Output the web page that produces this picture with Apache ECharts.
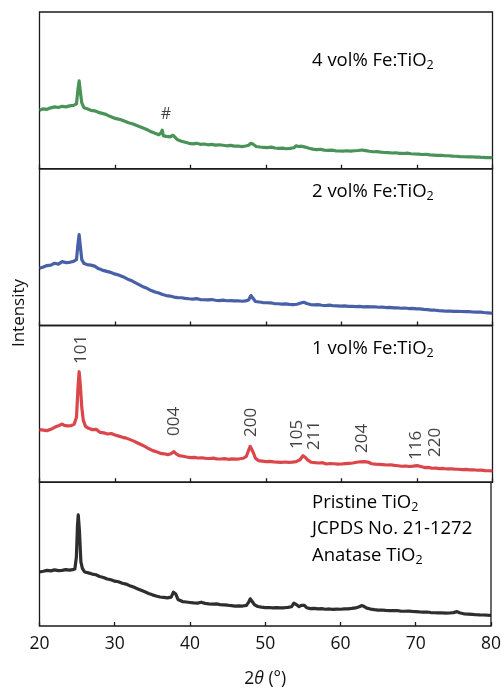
<!DOCTYPE html>
<html><head><meta charset="utf-8">
<script src="https://cdn.jsdelivr.net/npm/echarts@6/dist/echarts.min.js"></script>
<style>html,body{margin:0;padding:0;background:#fff}#c{width:504px;height:689px}</style>
</head><body><div id="c"></div>
<script>
const xTicks = [20,30,40,50,60,70,80];
const fe4 = [[20,58.7],[20.5,60],[21,59.5],[21.5,61],[22,62],[22.5,61.3],[23,62.5],[23.5,62],[24,63],[24.5,63.5],[24.9,65],[25.1,80],[25.25,88],[25.4,78],[25.6,66],[25.9,61],[26.3,60],[26.8,58.5],[27.3,58],[27.8,56.5],[28.3,55.5],[28.8,54.5],[29.3,52.5],[29.8,51],[30.3,50],[30.8,49],[31.3,47.5],[31.8,46],[32.3,45],[32.8,43.5],[33.3,42],[33.8,40.5],[34.3,39],[34.8,37],[35.3,35.5],[35.8,34],[36.1,36],[36.25,38.7],[36.4,33],[36.8,32.5],[37.3,32],[37.7,33.5],[37.9,32.5],[38.3,29],[38.8,27.5],[39.3,26.5],[39.8,25.5],[40.3,25],[40.8,25.5],[41.3,24.5],[41.8,24.8],[42.3,24],[42.8,24.4],[43.3,23.6],[43.8,24],[44.3,23.5],[44.8,23],[45.3,23.4],[45.8,22.6],[46.3,22.8],[46.8,22.2],[47.3,22.8],[47.7,23.5],[48.0,25.5],[48.3,24.5],[48.7,22.3],[49.2,21.8],[49.7,21.5],[50.2,21.2],[50.7,21.6],[51.2,20.8],[51.7,20.4],[52.2,20.6],[52.7,20],[53.2,20.4],[53.7,21],[54,23],[54.3,22.3],[54.7,22.6],[55.2,21.7],[55.7,20.5],[56.2,19.6],[56.7,19.2],[57.2,19.5],[57.7,18.6],[58.2,18.4],[58.7,18.7],[59.2,18],[59.7,17.8],[60.2,17.6],[60.7,18],[61.2,17.6],[61.7,18],[62.2,18.3],[62.7,18.8],[63.2,18.2],[63.7,17.5],[64.2,17],[64.7,17.2],[65.2,16.6],[65.7,16.3],[66.2,16.2],[66.7,15.8],[67.2,16],[67.7,15.4],[68.2,15.3],[68.7,15.6],[69.2,15],[69.7,14.8],[70.2,14.6],[70.7,14.3],[71.2,14.5],[71.7,13.9],[72.2,13.7],[72.7,13.4],[73.2,13.5],[73.7,13],[74.2,13],[74.7,12.6],[75.2,12.5],[75.7,12.2],[76.2,12],[76.7,11.8],[77.2,12],[77.7,11.6],[78.2,11.7],[78.7,11.3],[79.2,11.2],[79.7,11.1],[80,11]];
const fe2 = [[20,57.3],[20.5,58.5],[21,60],[21.5,60.5],[22,62.3],[22.5,61.5],[23,64],[23.5,63],[24,63.3],[24.5,64.2],[24.9,66],[25.1,82],[25.25,91],[25.4,80],[25.6,66],[25.9,62],[26.3,61],[26.8,60.5],[27.3,59.5],[27.8,57],[28.3,55.5],[28.8,54.5],[29.3,53.5],[29.8,52],[30.3,51],[30.8,49.5],[31.3,48],[31.8,46],[32.3,44.5],[32.8,42.5],[33.3,40.5],[33.8,38.5],[34.3,37],[34.8,35],[35.3,33.5],[35.8,32.5],[36.3,31],[36.8,30],[37.3,29.5],[37.8,28.5],[38.3,28],[38.8,27.8],[39.3,27.2],[39.8,26.8],[40.3,26.5],[40.8,26.9],[41.3,26],[41.8,25.8],[42.3,25.6],[42.8,26],[43.3,25.3],[43.8,25],[44.3,25.4],[44.8,24.8],[45.3,24.9],[45.8,24.6],[46.3,24.8],[46.8,24.3],[47.3,24.7],[47.7,25.5],[48.0,30],[48.3,27],[48.6,24],[49.1,23.5],[49.6,23],[50.1,22.8],[50.6,22.6],[51.1,22],[51.6,21.8],[52.1,21.4],[52.6,21.6],[53.1,21.2],[53.6,21],[54.1,21.3],[54.6,22.5],[55,23.3],[55.4,22],[55.9,21],[56.4,20.7],[56.9,20.9],[57.4,20.3],[57.9,20],[58.4,20.4],[58.9,19.8],[59.4,19.6],[59.9,19.4],[60.4,19.7],[60.9,19.1],[61.4,19.3],[61.9,19],[62.4,19.2],[62.9,18.7],[63.4,18.9],[63.9,18.6],[64.4,18.8],[64.9,18.3],[65.4,18.4],[65.9,18],[66.4,18.1],[66.9,17.6],[67.4,17.8],[67.9,17.3],[68.4,17.5],[68.9,17],[69.4,17.1],[69.9,16.7],[70.4,16.6],[70.9,16.1],[71.4,15.9],[71.9,15.4],[72.4,15.3],[72.9,14.9],[73.4,14.7],[73.9,14.3],[74.4,14.4],[74.9,14.1],[75.4,14.2],[75.9,14],[76.4,13.8],[76.9,13.9],[77.4,13.5],[77.9,13.3],[78.4,13.4],[78.9,13],[79.4,12.7],[80,12.3]];
const fe1 = [[20,52.7],[20.5,52.2],[21,51.7],[21.5,53],[22,55],[22.5,56.5],[23,58.3],[23.3,57],[23.7,56.5],[24.2,56.7],[24.6,58.3],[24.9,65],[25.1,95],[25.25,110.7],[25.4,98],[25.6,75],[25.8,62],[26.1,56],[26.5,54],[27,52.7],[27.5,53],[28,50],[28.5,49.5],[29,48.3],[29.5,48.8],[30,47.3],[30.5,46.2],[31,45],[31.5,44.2],[32,42.7],[32.5,41.2],[33,39.3],[33.5,37.5],[34,35.7],[34.5,33.5],[35,31.7],[35.5,30.5],[36,29],[36.5,28.5],[37,27.7],[37.4,28.5],[37.8,30.7],[38.1,28.5],[38.5,26.7],[39,26],[39.5,25.3],[40,24.7],[40.5,24.9],[41,24.3],[41.5,24.5],[42,24],[42.5,23.8],[43,24.1],[43.5,23.4],[44,23.3],[44.5,23.6],[45,23],[45.5,23.4],[46,23.2],[46.5,23.5],[47,24],[47.4,26],[47.7,32],[47.9,36],[48.1,35],[48.3,30],[48.6,24],[49,21.7],[49.5,21.2],[50,20.7],[50.5,20.9],[51,20.4],[51.5,20.2],[52,20],[52.5,20.3],[53,19.9],[53.5,20.2],[54,20.6],[54.5,22.5],[54.9,26.5],[55.2,25],[55.5,22.3],[56,20],[56.5,19.6],[57,19.3],[57.5,19.6],[58,18.3],[58.5,18.8],[59,18.5],[59.5,18.2],[60,18.3],[60.5,18.7],[61,19],[61.5,19.3],[62,20],[62.5,20.5],[63,20.7],[63.5,20.2],[64,18.5],[64.5,18.1],[65,17.9],[65.5,17.6],[66,17.3],[66.5,17.5],[67,16.9],[67.5,16.5],[68,16],[68.5,16.3],[69,15.8],[69.5,16.2],[70,16.7],[70.5,15.8],[71,14.7],[71.5,14.9],[72,14],[72.5,14.2],[73,13.7],[73.5,13.8],[74,13.3],[74.5,13.5],[75,13.1],[75.5,13],[76,12.7],[76.5,12.9],[77,12.4],[77.5,12.5],[78,12],[78.5,12.1],[79,11.6],[79.5,11.5],[80,11.3]];
const pristine = [[20,59],[20.5,59.8],[21,60.7],[21.5,60.2],[22,61.3],[22.5,60.5],[23,60.7],[23.5,61.5],[24,61],[24.4,61.5],[24.7,62.3],[24.9,75],[25.05,110],[25.15,121.3],[25.3,105],[25.5,70],[25.7,63],[26,59],[26.5,58],[27,56.7],[27.5,56],[28,54],[28.5,53],[29,51.3],[29.5,50.5],[30,49],[30.5,48.3],[31,46.7],[31.5,45.8],[32,44],[32.5,42.5],[33,40.7],[33.5,39],[34,37.3],[34.5,35.5],[35,34],[35.5,32.8],[36,31.7],[36.5,31.2],[37,30.7],[37.5,31.5],[37.8,37],[37.95,39],[38.1,35],[38.4,29],[39,26.7],[39.5,26.2],[40,25.7],[40.5,25.2],[41,25],[41.5,26],[42,24.7],[42.5,24.2],[43,23.8],[43.5,24.1],[44,23.3],[44.5,23],[45,22.7],[45.5,22.2],[46,21.7],[46.5,22],[47,21.8],[47.5,22.5],[47.8,26],[48,29.7],[48.2,28],[48.6,23],[49,21.3],[49.5,20.6],[50,20],[50.5,20.2],[51,19.8],[51.5,20.1],[52,19.7],[52.5,19.9],[53,20.3],[53.5,21],[53.8,25],[53.95,26.7],[54.2,23],[54.5,21.2],[54.8,22.5],[55,24],[55.2,22.5],[55.5,20],[56,19],[56.5,19.3],[57,18.7],[57.5,18.9],[58,18.3],[58.5,18.6],[59,18.2],[59.5,18.5],[60,18.3],[60.5,18.6],[61,18.8],[61.5,19.2],[62,19.7],[62.5,21],[62.8,22.3],[63.1,21.5],[63.5,19.5],[64,18.5],[64.5,17.8],[65,17.3],[65.5,17.5],[66,17.1],[66.5,16.8],[67,16.7],[67.5,16.9],[68,16.3],[68.5,16.1],[69,16.4],[69.5,15.9],[70,15.7],[70.5,15.4],[71,15.2],[71.5,15.3],[72,14.7],[72.5,14.5],[73,14.3],[73.5,14.4],[74,14],[74.5,14.2],[75,14.6],[75.5,15.7],[75.8,14.5],[76,13.3],[76.5,13.1],[77,12.9],[77.5,12.6],[78,12.3],[78.5,12.1],[79,12],[79.5,11.8],[80,11.7]];
const peakLabels = [['101',25.5,133],['004',37.8,61],['200',48.1,60],['105',54.1,48],['211',56.4,47],['204',62.8,44],['116',69.9,37],['220',72.4,40]];
const hashMark = [['#',36.75,54]];
const panelNames = [['4 vol% Fe:TiO','2'],['2 vol% Fe:TiO','2'],['1 vol% Fe:TiO','2']];
const pristineLines = [['Pristine TiO','2'],['JCPDS No. 21-1272',''],['Anatase TiO','2']];

const FONT = 'Open Sans';
const TOP = 12, H = 156.75, LEFT = 39.5, RIGHT = 11.5;
const colors = ['#3a8a4a','#3752a0','#d8363c','#1c1c1c'];
const datasets = [fe4, fe2, fe1, pristine];

const grids = [], xAxes = [], yAxes = [], series = [];
for (let i = 0; i < 4; i++) {
  grids.push({left: LEFT, right: RIGHT, top: TOP + i*H, height: H, show: true, borderColor: '#1a1a1a', borderWidth: 1.3, backgroundColor: 'transparent'});
  const last = i === 3;
  xAxes.push({
    gridIndex: i, type: 'value', min: 20, max: 80, interval: 10,
    axisLine: {show: false},
    axisTick: {show: true, inside: true, length: 4, lineStyle: {color: '#1a1a1a', width: 1.3}},
    axisLabel: {show: last, fontFamily: FONT, fontSize: 17.5, color: '#111', margin: 9},
    splitLine: {show: false},
    name: last ? '{a|2}{b|θ}{a| (°)}' : '',
    nameLocation: 'middle', nameGap: 44,
    nameTextStyle: {rich: {a: {fontFamily: FONT, fontSize: 17.5, color: '#111'}, b: {fontFamily: FONT, fontSize: 17.5, fontStyle: 'italic', color: '#111'}}}
  });
  yAxes.push({gridIndex: i, type: 'value', min: 0, max: 157, show: false});
  series.push({type: 'line', xAxisIndex: i, yAxisIndex: i, data: datasets[i], showSymbol: false, symbol: 'none', smooth: false,
    lineStyle: {color: colors[i], width: 3.2, opacity: 0.92, join: 'round'}, animation: false, z: 3});
}
series.push({type: 'scatter', xAxisIndex: 2, yAxisIndex: 2, symbolSize: 0, animation: false, silent: true,
  data: peakLabels.map(p => ({value: [p[1], p[2]], name: p[0]})),
  label: {show: true, formatter: '{b}', rotate: 90, position: 'inside', align: 'center', verticalAlign: 'middle', fontFamily: FONT, fontSize: 17, color: '#111'}});
series.push({type: 'scatter', xAxisIndex: 0, yAxisIndex: 0, symbolSize: 0, animation: false, silent: true,
  data: hashMark.map(p => ({value: [p[1], p[2]], name: p[0]})),
  label: {show: true, formatter: '{b}', position: 'inside', fontFamily: FONT, fontSize: 16, color: '#111'}});

const rich = {a: {fontFamily: FONT, fontSize: 18.5, color: '#111', lineHeight: 23}, s: {fontFamily: FONT, fontSize: 12.5, color: '#111', lineHeight: 13, verticalAlign: 'bottom'}};
const graphics = [];
const nameTops = [51, 182, 339];
panelNames.forEach((p, i) => {
  graphics.push({type: 'text', left: 312, top: nameTops[i], style: {text: '{a|' + p[0] + '}{s|' + p[1] + '}', rich: rich}});
});
pristineLines.forEach((p, i) => {
  graphics.push({type: 'text', left: 312, top: 493 + i*26.5, style: {text: '{a|' + p[0] + '}' + (p[1] ? '{s|' + p[1] + '}' : ''), rich: rich}});
});
graphics.push({type: 'text', x: 19, y: 313, rotation: Math.PI/2, style: {text: 'Intensity', fontFamily: FONT, fontSize: 17, fill: '#111', align: 'center', verticalAlign: 'middle'}});

const chart = echarts.init(document.getElementById('c'));
chart.setOption({animation: false, grid: grids, xAxis: xAxes, yAxis: yAxes, series: series, graphic: graphics});
</script></body></html>
